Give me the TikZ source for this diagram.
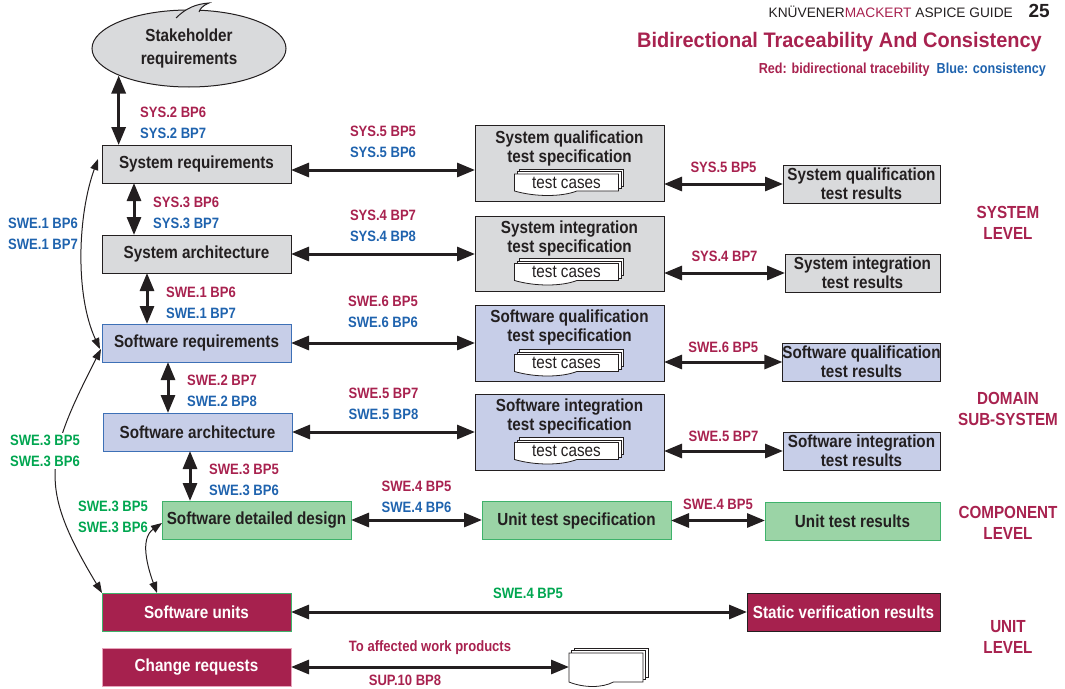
\documentclass[tikz,border=0pt]{standalone}
\usepackage{fontspec}
\setmainfont{Liberation Sans}[FakeStretch=0.87]
\newfontfamily\hdrfont{Liberation Sans}
\newfontfamily\titlefont{Liberation Sans}[FakeStretch=0.95]
\usetikzlibrary{arrows.meta,positioning,shapes.geometric}

\definecolor{kmred}{HTML}{A8224F}
\definecolor{kmblue}{HTML}{1F63AE}
\definecolor{kmgreen}{HTML}{00A650}
\definecolor{ink}{HTML}{231F20}
\definecolor{sysgrey}{HTML}{D9DADC}
\definecolor{swblue}{HTML}{C7CEE8}
\definecolor{swedge}{HTML}{3D70B6}
\definecolor{compgreen}{HTML}{9BD4A6}
\definecolor{compedge}{HTML}{3FB26B}
\definecolor{unitred}{HTML}{A6214E}
\definecolor{crpink}{HTML}{E7A3BB}

\newcommand\kmbox{\bfseries\fontsize{17.5}{19}\selectfont}
\newcommand\kmlabel{\bfseries\fontsize{15}{21}\selectfont}
\newcommand\kmlevel{\bfseries\fontsize{17.5}{21}\selectfont}
\newcommand\kmtest{\fontsize{17.5}{19}\selectfont}

\tikzset{
  wp/.style={draw=ink, line width=1pt, inner sep=0pt, outer sep=0pt, font=\kmbox,
    text=ink, align=center, minimum width=189pt, minimum height=38pt},
  sysbox/.style={wp, fill=sysgrey},
  swbox/.style={wp, fill=swblue, draw=swedge},
  compbox/.style={wp, fill=compgreen, draw=compedge},
  unitbox/.style={wp, fill=unitred, text=white},
  specbox/.style={wp, minimum height=76pt},
  spectitle/.style={inner sep=0pt, font=\kmbox, text=ink, align=center},
  tracelbl/.style={inner sep=0pt, font=\kmlabel, align=left},
  levelname/.style={inner sep=0pt, font=\kmlevel, text=kmred, align=center},
  bidir/.style={{Triangle[length=18pt,width=14pt]}-{Triangle[length=18pt,width=14pt]},
    line width=3pt, draw=ink},
  loopline/.style={{Triangle[length=11pt,width=8pt]}-{Triangle[length=11pt,width=8pt]},
    line width=1pt, draw=ink},
  dsw/.store in=\dsw, dsw=104,
  dsh/.store in=\dsh, dsh=17,
  docstack/.pic={
    \foreach \off in {5,2.5}
      \draw[draw=ink, fill=white, line width=0.8pt]
        ({-\dsw/2+\off},{-\dsh/2-\off}) rectangle ({\dsw/2+\off},{\dsh/2-\off});
    \draw[draw=ink, fill=white, line width=0.8pt]
      ({-\dsw/2},{-\dsh/2}) -- ({\dsw/2},{-\dsh/2}) -- ({\dsw/2},{\dsh/2})
      -- ({0.1*\dsw},{\dsh/2}) .. controls ({-0.05*\dsw},{\dsh/2+6}) and ({-0.3*\dsw},{\dsh/2+6})
      .. ({-\dsw/2},{\dsh/2}) -- cycle;
    \coordinate (-w) at ({-\dsw/2},0);
    \node[inner sep=0pt, font=\kmtest, text=ink] (-txt) at (0,0) {#1};
  }
}

\begin{document}
\begin{tikzpicture}[x=1pt,y=-1pt]
\useasboundingbox (0,0) rectangle (1065,688);

% page header
\node[anchor=base east, inner sep=0pt, font=\hdrfont\bfseries\fontsize{19}{19}\selectfont, text=ink]
  (pageno) at (1050,17) {25};
\node[anchor=base east, inner sep=0pt, font=\hdrfont\fontsize{13.7}{14}\selectfont, text=ink]
  (guide) at (1013,17) {KNÜVENER\textcolor{kmred}{MACKERT} ASPICE GUIDE};
\node[anchor=base east, inner sep=0pt, font=\titlefont\bfseries\fontsize{21}{21}\selectfont, text=kmred]
  (title) at (1042,47) {Bidirectional Traceability And Consistency};
\node[anchor=base east, inner sep=0pt, font=\bfseries\fontsize{14.5}{15}\selectfont]
  (legend) at (1046,73) {\textcolor{kmred}{Red: bidirectional tracebility}\hspace{7pt}\textcolor{kmblue}{Blue: consistency}};

% stakeholder cloud
\node[ellipse, draw=ink, fill=sysgrey, line width=1pt, minimum width=194pt, minimum height=77pt,
  inner sep=0pt, align=center, font=\kmbox, text=ink] (stake) at (189,48.5) {Stakeholder\\[4pt]requirements};
\fill[sysgrey] (176,18) .. controls (186,8) and (196,4) .. (209,3) .. controls (202,6) and (200,9) .. (199,12) -- cycle;
\draw[ink, line width=1pt] (176,18) .. controls (186,8) and (196,4) .. (209,3) .. controls (202,6) and (200,9) .. (199,12);

% left column
\node[sysbox] (sysreq) at (196.5,164) {System requirements};
\node[sysbox] (sysarch) at (196.5,254) {System architecture};
\node[swbox] (swreq) at (196.5,343) {Software requirements};
\node[swbox] (swarch) at (197.5,432) {Software architecture};
\node[compbox] (swdd) at (256.5,520) {Software detailed design};
\node[unitbox, draw=compedge] (swunits) at (196.5,612) {Software units};
\node[unitbox, draw=crpink] (chgreq) at (196.5,667) {Change requests};

% test specifications
\node[specbox, fill=sysgrey] (sysqspec) at (569.5,163.5) {};
\node[spectitle, below=5pt of sysqspec.north] (sysqspect) {System qualification\\test specification};
\pic (tc1) at ([xshift=-3pt,yshift=19pt]sysqspec.south) {docstack=test cases};
\node[specbox, fill=sysgrey, minimum height=75pt] (sysispec) at (569.5,253.5) {};
\node[spectitle, below=5pt of sysispec.north] (sysispect) {System integration\\test specification};
\pic (tc2) at ([xshift=-3pt,yshift=19pt]sysispec.south) {docstack=test cases};
\node[specbox, fill=swblue] (swqspec) at (569.5,343) {};
\node[spectitle, below=5pt of swqspec.north] (swqspect) {Software qualification\\test specification};
\pic (tc3) at ([xshift=-3pt,yshift=18pt]swqspec.south) {docstack=test cases};
\node[specbox, fill=swblue] (swispec) at (569.5,432) {};
\node[spectitle, below=5pt of swispec.north] (swispect) {Software integration\\test specification};
\pic (tc4) at ([xshift=-3pt,yshift=19pt]swispec.south) {docstack=test cases};
\node[compbox] (utspec) at (576.5,520.5) {Unit test specification};

% results
\node[sysbox, minimum width=157pt] (sysqres) at (861.5,184) {System qualification\\test results};
\node[sysbox, minimum width=155pt] (sysires) at (862.5,273) {System integration\\test results};
\node[swbox, draw=ink, minimum width=157pt] (swqres) at (861.5,362) {Software qualification\\test results};
\node[swbox, draw=ink, minimum width=157pt] (swires) at (861.5,451) {Software integration\\test results};
\node[compbox, minimum width=175pt] (utres) at (852.5,521) {Unit test results};
\node[unitbox, minimum width=193pt] (statres) at (843.5,612.5) {Static verification results};
\pic[dsw=74, dsh=29] (crdoc) at (606,667.5) {docstack=};

% levels
\node[levelname] (lvsys) at (1008,222.5) {SYSTEM\\LEVEL};
\node[levelname] (lvdom) at (1008,408.5) {DOMAIN\\SUB-SYSTEM};
\node[levelname] (lvcomp) at (1008,522.5) {COMPONENT\\LEVEL};
\node[levelname] (lvunit) at (1008,636.5) {UNIT\\LEVEL};

% vertical traces
\draw[bidir] (stake.201) -- (stake.201 |- sysreq.north);
\draw[bidir] ([xshift=32pt]sysreq.south west) -- ([xshift=32pt]sysreq.south west |- sysarch.north);
\draw[bidir] ([xshift=45pt]sysarch.south west) -- ([xshift=45pt]sysarch.south west |- swreq.north);
\draw[bidir] ([xshift=66pt]swreq.south west) -- ([xshift=66pt]swreq.south west |- swarch.north);
\draw[bidir] ([xshift=87pt]swarch.south west) -- ([xshift=87pt]swarch.south west |- swdd.north);
\node[tracelbl, anchor=west] (l-sys2) at (140,123) {\textcolor{kmred}{SYS.2 BP6}\\\textcolor{kmblue}{SYS.2 BP7}};
\node[tracelbl, anchor=west] (l-sys3) at (153,212.5) {\textcolor{kmred}{SYS.3 BP6}\\\textcolor{kmblue}{SYS.3 BP7}};
\node[tracelbl, anchor=west] (l-swe1) at (166,302.5) {\textcolor{kmred}{SWE.1 BP6}\\\textcolor{kmblue}{SWE.1 BP7}};
\node[tracelbl, anchor=west] (l-swe2) at (187,390.5) {\textcolor{kmred}{SWE.2 BP7}\\\textcolor{kmblue}{SWE.2 BP8}};
\node[tracelbl, anchor=west] (l-swe3) at (209,480) {\textcolor{kmred}{SWE.3 BP5}\\\textcolor{kmblue}{SWE.3 BP6}};

% horizontal traces to the test specifications
\draw[bidir] ([yshift=-6pt]sysreq.east) -- ([yshift=-6pt]sysreq.east -| sysqspec.west)
  node[pos=0.5, above=11pt, tracelbl] (l-sys5) {\textcolor{kmred}{SYS.5 BP5}\\\textcolor{kmblue}{SYS.5 BP6}};
\draw[bidir] (sysarch.east) -- (sysarch.east -| sysispec.west)
  node[pos=0.5, above=11pt, tracelbl] (l-sys4) {\textcolor{kmred}{SYS.4 BP7}\\\textcolor{kmblue}{SYS.4 BP8}};
\draw[bidir] (swreq.east) -- (swreq.east -| swqspec.west)
  node[pos=0.5, above=14pt, tracelbl] (l-swe6) {\textcolor{kmred}{SWE.6 BP5}\\\textcolor{kmblue}{SWE.6 BP6}};
\draw[bidir] (swarch.east) -- (swarch.east -| swispec.west)
  node[pos=0.5, above=11pt, tracelbl] (l-swe5) {\textcolor{kmred}{SWE.5 BP7}\\\textcolor{kmblue}{SWE.5 BP8}};
\draw[bidir] (swdd.east) -- (swdd.east -| utspec.west)
  node[pos=0.5, above=6pt, tracelbl] (l-swe4) {\textcolor{kmred}{SWE.4 BP5}\\\textcolor{kmblue}{SWE.4 BP6}};

% traces to the results
\draw[bidir] (sysqres.west -| sysqspec.east) -- (sysqres.west)
  node[pos=0.5, above=10pt, tracelbl, text=kmred] (r-sys5) {SYS.5 BP5};
\draw[bidir] (sysires.west -| sysispec.east) -- (sysires.west)
  node[pos=0.5, above=10pt, tracelbl, text=kmred] (r-sys4) {SYS.4 BP7};
\draw[bidir] (swqres.west -| swqspec.east) -- (swqres.west)
  node[pos=0.5, above=8pt, tracelbl, text=kmred] (r-swe6) {SWE.6 BP5};
\draw[bidir] (swires.west -| swispec.east) -- (swires.west)
  node[pos=0.5, above=8pt, tracelbl, text=kmred] (r-swe5) {SWE.5 BP7};
\draw[bidir] (utspec.east) -- (utspec.east -| utres.west)
  node[pos=0.5, above=9pt, tracelbl, text=kmred] (r-swe4) {SWE.4 BP5};
\draw[bidir] (swunits.east) -- (swunits.east -| statres.west)
  node[pos=0.5, above=12pt, xshift=9pt, tracelbl, text=kmgreen] (r-static) {SWE.4 BP5};
\draw[bidir] (chgreq.east) -- (chgreq.east -| crdoc-w)
  node[pos=0.5, above=11pt, tracelbl, text=kmred] (l-affect) {To affected work products}
  node[pos=0.5, below=7pt, xshift=-25pt, tracelbl, text=kmred] (l-sup10) {SUP.10 BP8};

% consistency loops on the left
\draw[loopline] ([xshift=-4pt,yshift=5pt]sysreq.west) to[out=250,in=115,looseness=0.8] ([xshift=-2pt,yshift=-6pt]swreq.west);
\draw[loopline] ([xshift=-1pt,yshift=-6pt]swreq.west) to[out=243,in=121,looseness=1.3] (swunits.north west);
\draw[loopline] ([yshift=-3pt]swdd.west) to[out=215,in=110] ([xshift=55pt]swunits.north west);
\node[tracelbl, anchor=west, text=kmblue] (c-swe1) at (8,233.5) {SWE.1 BP6\\SWE.1 BP7};
\node[tracelbl, anchor=west, text=kmgreen, fill=white, inner sep=2pt] (c-swe3) at (8,451) {SWE.3 BP5\\SWE.3 BP6};
\node[tracelbl, anchor=west, text=kmgreen] (c-swe3dd) at (78,516.5) {SWE.3 BP5\\SWE.3 BP6};
\end{tikzpicture}
\end{document}
